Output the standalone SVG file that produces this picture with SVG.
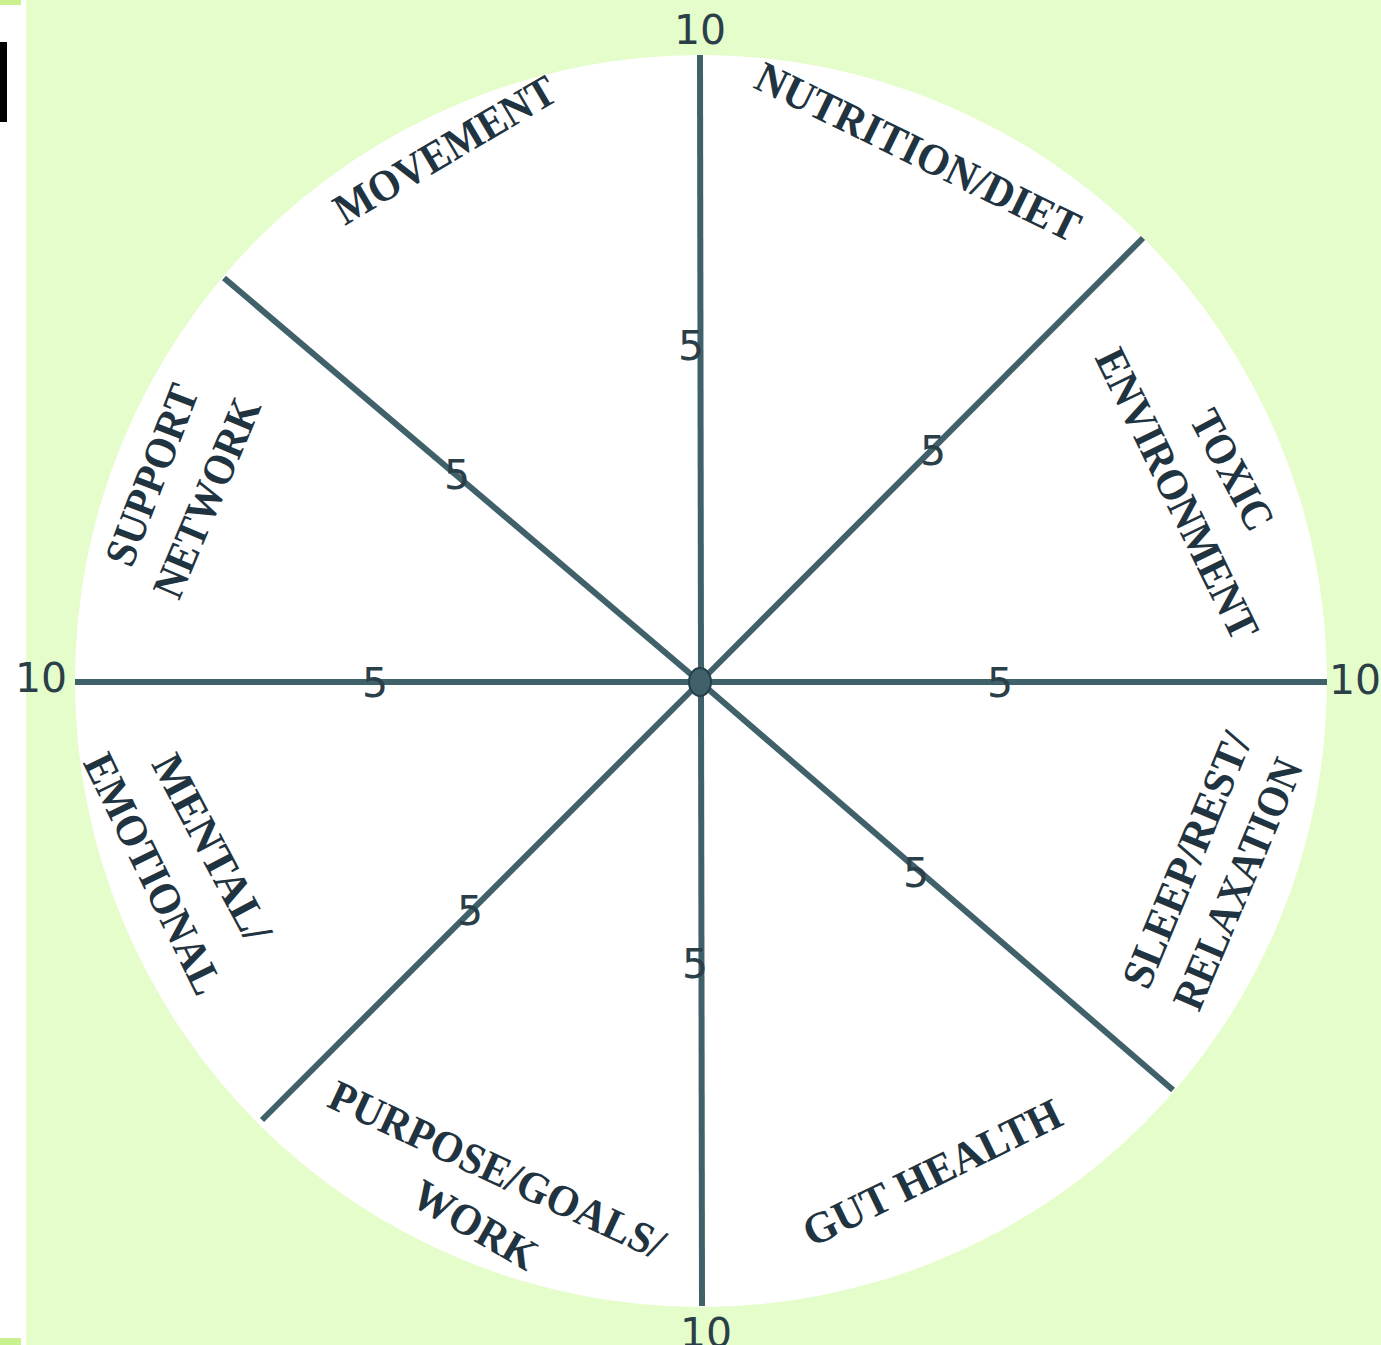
<svg xmlns="http://www.w3.org/2000/svg" width="1381" height="1345" viewBox="0 0 1381 1345">
  <style>
    .spoke { stroke: #40606a; stroke-width: 6; stroke-linecap: butt; fill: none; }
    .num { font-family: "DejaVu Sans", sans-serif; font-size: 41px; fill: #2b3f48; text-anchor: middle; }
    .lbl { font-family: "Liberation Serif", "Times New Roman", serif; font-weight: bold; font-size: 44px; fill: #1f3440; text-anchor: middle; dominant-baseline: central; }
  </style>
  <rect x="0" y="0" width="1381" height="1345" fill="#ffffff"/>
  <rect x="26" y="0" width="1355" height="1345" fill="#e5fdca"/>
  <rect x="0" y="0" width="21" height="5" fill="#c9f18f"/>
  <rect x="0" y="1338" width="21" height="7" fill="#c9f18f"/>
  <rect x="0" y="42" width="7" height="80" fill="#000000"/>
  <circle cx="701" cy="681" r="626" fill="#ffffff"/>

  <g id="connectors">
    <line class="spoke" x1="700" y1="55" x2="702" y2="1306"/>
    <line class="spoke" x1="75" y1="682" x2="1327" y2="682"/>
    <line class="spoke" x1="700" y1="682" x2="1143" y2="238"/>
    <line class="spoke" x1="700" y1="682" x2="1173" y2="1090"/>
    <line class="spoke" x1="700" y1="682" x2="262" y2="1120"/>
    <line class="spoke" x1="700" y1="682" x2="224" y2="278"/>
  </g>

  <g id="center">
    <ellipse cx="700" cy="682" rx="11" ry="14" fill="#40606a" stroke="#24404a" stroke-width="2"/>
  </g>

  <g id="scale">
    <text class="num" x="700" y="44">10</text>
    <text class="num" x="41" y="692">10</text>
    <text class="num" x="1355" y="694">10</text>
    <text class="num" x="706" y="1347">10</text>
    <text class="num" x="691" y="360">5</text>
    <text class="num" x="933" y="465">5</text>
    <text class="num" x="457" y="489">5</text>
    <text class="num" x="375" y="697">5</text>
    <text class="num" x="1000" y="697">5</text>
    <text class="num" x="916" y="887">5</text>
    <text class="num" x="470" y="925">5</text>
    <text class="num" x="695" y="978">5</text>
  </g>

  <g id="nutrition">
    <text class="lbl" transform="translate(918,152) rotate(26)" textLength="355" lengthAdjust="spacingAndGlyphs">NUTRITION/DIET</text>
  </g>
  <g id="movement">
    <text class="lbl" transform="translate(445,150) rotate(-30.5)" textLength="250" lengthAdjust="spacingAndGlyphs">MOVEMENT</text>
  </g>
  <g id="support-network">
    <text class="lbl" transform="translate(152,475) rotate(-69)" textLength="190" lengthAdjust="spacingAndGlyphs">SUPPORT</text>
    <text class="lbl" transform="translate(207,498) rotate(-67)" textLength="212" lengthAdjust="spacingAndGlyphs">NETWORK</text>
  </g>
  <g id="toxic-environment">
    <text class="lbl" transform="translate(1232,470) rotate(62)" textLength="130" lengthAdjust="spacingAndGlyphs">TOXIC</text>
    <text class="lbl" transform="translate(1177,494) rotate(64)" textLength="318" lengthAdjust="spacingAndGlyphs">ENVIRONMENT</text>
  </g>
  <g id="sleep-rest-relaxation">
    <text class="lbl" transform="translate(1187,860) rotate(-67.5)" textLength="272" lengthAdjust="spacingAndGlyphs">SLEEP/REST/</text>
    <text class="lbl" transform="translate(1238,884) rotate(-67)" textLength="268" lengthAdjust="spacingAndGlyphs">RELAXATION</text>
  </g>
  <g id="mental-emotional">
    <text class="lbl" transform="translate(212,848) rotate(62)" textLength="206" lengthAdjust="spacingAndGlyphs">MENTAL/</text>
    <text class="lbl" transform="translate(153,874) rotate(64)" textLength="262" lengthAdjust="spacingAndGlyphs">EMOTIONAL</text>
  </g>
  <g id="purpose-goals-work">
    <text class="lbl" transform="translate(497,1170) rotate(25)" textLength="365" lengthAdjust="spacingAndGlyphs">PURPOSE/GOALS/</text>
    <text class="lbl" transform="translate(475,1225) rotate(30)" textLength="136" lengthAdjust="spacingAndGlyphs">WORK</text>
  </g>
  <g id="gut-health">
    <text class="lbl" transform="translate(932,1173) rotate(-26)" textLength="282" lengthAdjust="spacingAndGlyphs">GUT HEALTH</text>
  </g>
</svg>
